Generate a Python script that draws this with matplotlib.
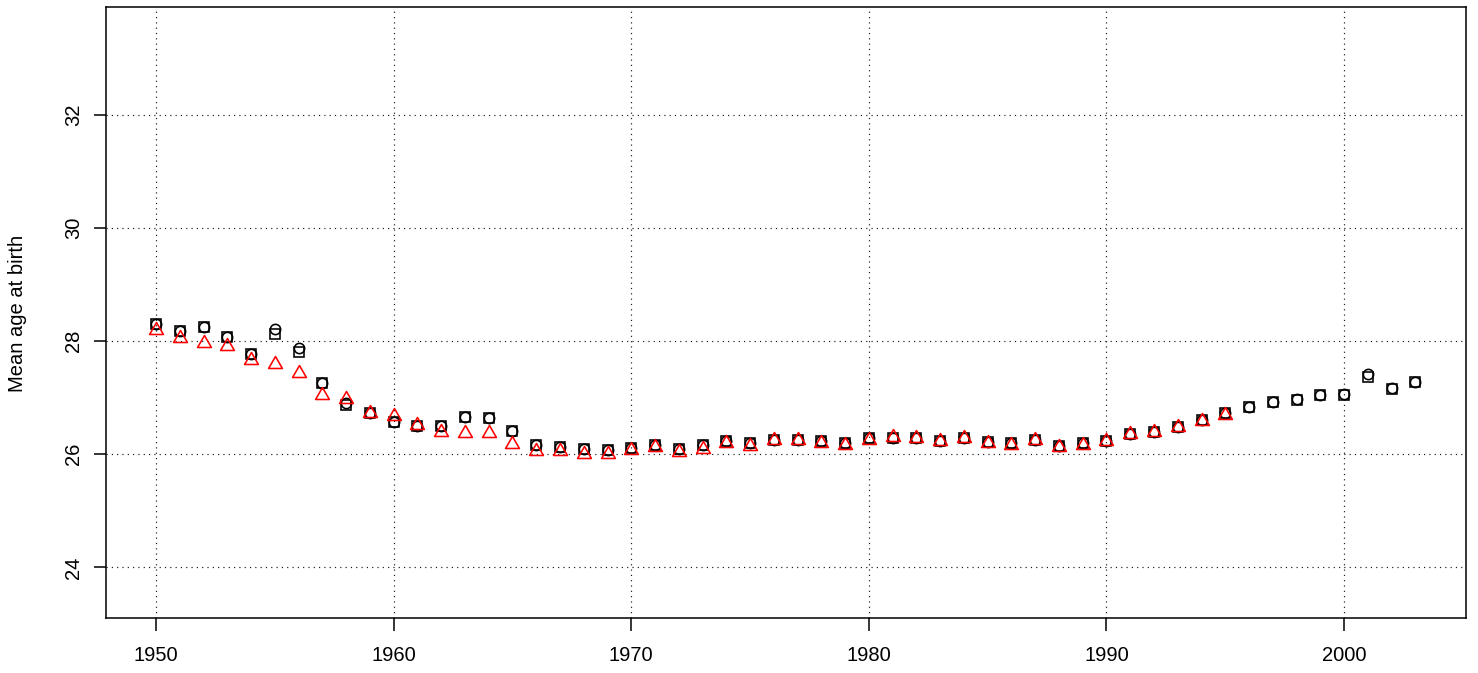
import numpy as np
import matplotlib.pyplot as plt
from matplotlib.path import Path

plt.rcParams['font.family'] = ['Liberation Sans', 'DejaVu Sans']

# data
years = list(range(1950, 2004))

# circles (black)
circ = [28.30, 28.18, 28.24, 28.08, 27.77, 28.21, 27.87, 27.25, 26.91, 26.73,
        26.57, 26.50, 26.49, 26.66, 26.64, 26.41, 26.16, 26.13, 26.09, 26.08,
        26.11, 26.17, 26.10, 26.16, 26.24, 26.19, 26.26, 26.26, 26.23, 26.19,
        26.29, 26.29, 26.29, 26.24, 26.29, 26.21, 26.19, 26.26, 26.14, 26.19,
        26.24, 26.36, 26.40, 26.48, 26.60, 26.72, 26.84, 26.92, 26.98, 27.04,
        27.07, 27.41, 27.17, 27.28]

# squares (black)
sq = [28.30, 28.18, 28.24, 28.08, 27.77, 28.12, 27.81, 27.25, 26.87, 26.73,
      26.57, 26.50, 26.49, 26.66, 26.64, 26.41, 26.16, 26.13, 26.09, 26.08,
      26.11, 26.17, 26.10, 26.16, 26.24, 26.19, 26.26, 26.26, 26.23, 26.19,
      26.29, 26.29, 26.29, 26.24, 26.29, 26.21, 26.19, 26.26, 26.14, 26.19,
      26.24, 26.36, 26.40, 26.48, 26.60, 26.72, 26.84, 26.92, 26.95, 27.04,
      27.04, 27.36, 27.15, 27.28]

# triangles (red), only up to 1995
tri_years = list(range(1950, 1996))
tri = [28.20, 28.06, 27.96, 27.91, 27.66, 27.60, 27.44, 27.04, 26.98, 26.73,
       26.67, 26.51, 26.39, 26.38, 26.38, 26.18, 26.05, 26.05, 26.01, 26.01,
       26.08, 26.12, 26.04, 26.10, 26.19, 26.14, 26.26, 26.26, 26.20, 26.17,
       26.26, 26.30, 26.29, 26.23, 26.29, 26.20, 26.17, 26.26, 26.13, 26.17,
       26.23, 26.35, 26.40, 26.48, 26.58, 26.70]

xticks = [1950, 1960, 1970, 1980, 1990, 2000]
yticks = [24, 26, 28, 30, 32]

# equilateral triangle like R's pch=2
tri_marker = Path([(-1, -0.577), (1, -0.577), (0, 1.155), (-1, -0.577)],
                  [Path.MOVETO, Path.LINETO, Path.LINETO, Path.CLOSEPOLY])

fig = plt.figure(figsize=(14.78, 6.73), dpi=100)
ax = fig.add_axes([0.0715, 0.0813, 0.9202, 0.9079])

ax.plot(years, circ, 'o', ms=7.4, mfc='none', mec='black', mew=1.15, zorder=3)
ax.plot(years, sq, 's', ms=7.0, mfc='none', mec='black', mew=1.15, zorder=3)
ax.plot(tri_years, tri, marker=tri_marker, ls='none', ms=11.5, mfc='none',
        mec='red', mew=1.15, zorder=4)

ax.set_xlim(1947.88, 2005.12)
ax.set_ylim(23.1, 33.9)
ax.set_xticks(xticks)
ax.set_yticks(yticks)
ax.grid(True, color='0.1', linestyle=(0, (1, 3.5)), linewidth=0.85)

for s in ax.spines.values():
    s.set_linewidth(1.1)

ax.tick_params(axis='both', length=9, width=1.1, labelsize=14.5, color='black')
ax.tick_params(axis='x', pad=11)
ax.tick_params(axis='y', pad=7, labelrotation=90)
for lab in ax.get_yticklabels():
    lab.set_va('center')

fig.text(18 / 1478, 1 - 313 / 673, 'Mean age at birth', rotation=90,
         ha='center', va='center', fontsize=14.5)

fig.savefig('out.png', dpi=100)
